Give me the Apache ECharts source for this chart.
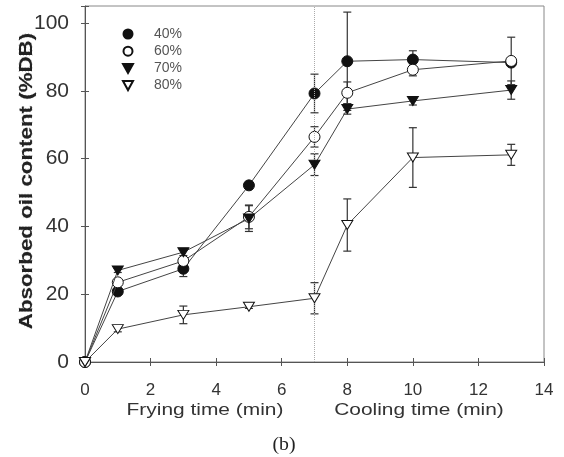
<!DOCTYPE html>
<html><head><meta charset="utf-8">
<script src="https://cdn.jsdelivr.net/npm/echarts@6/dist/echarts.min.js"></script>
<style>html,body{margin:0;padding:0;background:#fff}#c{width:564px;height:457px}</style>
</head><body><div id="c"></div>
<script>
const xTimes = [0, 1, 3, 5, 7, 8, 10, 13];
const seriesNames = ['40%', '60%', '70%', '80%'];
const s40 = [0, 20.8, 27.5, 52.1, 79.2, 88.7, 89.2, 88.3];
const e40 = [0, 0.8, 2.3, 0, 5.7, 14.5, 2.6, 0];
const s60 = [0, 23.5, 29.8, 42.8, 66.4, 79.4, 86.2, 88.8];
const e60 = [0, 0, 0, 3.5, 3.0, 3.2, 1.8, 7.0];
const s70 = [0, 27.0, 32.4, 42.3, 58.2, 74.6, 77.0, 80.2];
const e70 = [0, 0.6, 1.0, 3.8, 3.2, 1.5, 1.2, 2.7];
const s80 = [0, 9.7, 13.9, 16.3, 18.8, 40.4, 60.3, 61.1];
const e80 = [0, 0.8, 2.6, 0.5, 4.6, 7.7, 8.8, 3.1];
const yTicks = [0, 20, 40, 60, 80, 100];
const xTicks = [0, 2, 4, 6, 8, 10, 12, 14];

const FONT = 'Liberation Sans';
const tri = 'path://M0,0L10,0L5,9Z';
const vals = [s40, s60, s70, s80];
const errs = [e40, e60, e70, e80];
const symbols = ['circle', 'circle', tri, tri];
const fills = ['#111', '#fff', '#111', '#fff'];
const sizes = [11, 11, [11, 10], [11, 10]];

const chart = echarts.init(document.getElementById('c'), null, {renderer: 'canvas'});
const series = [];
vals.forEach((v, i) => {
  series.push({
    name: seriesNames[i], type: 'line', data: xTimes.map((x, k) => [x, v[k]]),
    symbol: symbols[i], symbolSize: sizes[i], symbolKeepAspect: true, showAllSymbol: true,
    lineStyle: {color: '#444', width: 1}, itemStyle: {color: fills[i], borderColor: '#111', borderWidth: 1},
    z: 3 + i, animation: false,
    markLine: i === 0 ? {symbol: 'none', silent: true, label: {show: false},
      lineStyle: {type: 'dotted', color: '#aaa', width: 1}, data: [{xAxis: 7}]} : undefined
  });
});
errs.forEach((e, i) => {
  series.push({
    type: 'custom', z: 2, animation: false, silent: true,
    data: xTimes.map((x, k) => [x, vals[i][k] - e[k], vals[i][k] + e[k], e[k]]).filter(d => d[3] > 0),
    renderItem: (params, api) => {
      const lo = api.coord([api.value(0), api.value(1)]);
      const hi = api.coord([api.value(0), api.value(2)]);
      const w = 4;
      const st = {stroke: '#333', lineWidth: 1.2};
      return {type: 'group', children: [
        {type: 'line', shape: {x1: lo[0], y1: lo[1], x2: hi[0], y2: hi[1]}, style: st},
        {type: 'line', shape: {x1: lo[0] - w, y1: lo[1], x2: lo[0] + w, y2: lo[1]}, style: st},
        {type: 'line', shape: {x1: hi[0] - w, y1: hi[1], x2: hi[0] + w, y2: hi[1]}, style: st}
      ]};
    }
  });
});

const axisLineStyle = {color: '#555', width: 1};
chart.setOption({
  animation: false,
  grid: {left: 85, right: 20, top: 6, bottom: 95, show: true, borderColor: '#888', borderWidth: 1},
  legend: {
    orient: 'vertical', left: 117, top: 22, itemWidth: 10, itemHeight: 9, itemGap: 3.2,
    data: seriesNames.map((n, i) => ({name: n, icon: i < 2 ? 'circle' : tri})),
    textStyle: {fontFamily: FONT, fontSize: 14, lineHeight: 14, color: '#555', padding: [0, 0, 0, 16]},
    selectedMode: false
  },
  xAxis: [{
    type: 'value', min: 0, max: 14, interval: 2,
    axisLine: {lineStyle: axisLineStyle}, axisTick: {show: true, inside: false, length: 4, lineStyle: axisLineStyle},
    axisLabel: {fontFamily: FONT, fontSize: 17, color: '#333', margin: 20, formatter: v => xTicks.includes(v) ? String(v) : ''},
    splitLine: {show: false}
  }, {
    type: 'value', min: 0, max: 14, interval: 2, position: 'bottom', gridIndex: 0,
    axisLine: {show: false}, axisTick: {show: true, inside: true, length: 4, lineStyle: axisLineStyle},
    axisLabel: {show: false}, splitLine: {show: false}
  }],
  yAxis: [{
    type: 'value', min: 0, max: 105, interval: 20,
    axisLine: {lineStyle: axisLineStyle}, axisTick: {show: true, inside: false, length: 4, lineStyle: axisLineStyle},
    axisLabel: {fontFamily: FONT, fontSize: 21, color: '#333', margin: 16, formatter: v => yTicks.includes(v) ? String(v) : ''},
    splitLine: {show: false}
  }, {
    type: 'value', min: 0, max: 105, interval: 20, position: 'left', offset: 0,
    axisLine: {show: false}, axisTick: {show: true, inside: true, length: 4, lineStyle: axisLineStyle},
    axisLabel: {show: false}, splitLine: {show: false}
  }],
  series: series,
  graphic: [
    {type: 'text', x: 27, y: 181, rotation: Math.PI / 2, scaleX: 1.24, style: {text: 'Absorbed oil content (%DB)', fontFamily: FONT, fontWeight: 'bold', fontSize: 18, fill: '#222', align: 'center', verticalAlign: 'middle'}},
    {type: 'text', x: 205, y: 410, scaleX: 1.23, style: {text: 'Frying time (min)', fontFamily: FONT, fontSize: 17, fill: '#333', align: 'center', verticalAlign: 'middle'}},
    {type: 'text', x: 419, y: 410, scaleX: 1.23, style: {text: 'Cooling time (min)', fontFamily: FONT, fontSize: 17, fill: '#333', align: 'center', verticalAlign: 'middle'}},
    {type: 'text', x: 284, y: 445, scaleX: 1.1, style: {text: '(b)', fontFamily: 'Liberation Serif', fontSize: 18, fill: '#222', align: 'center', verticalAlign: 'middle'}}
  ]
});
const p0 = chart.convertToPixel({gridIndex: 0}, [7, 0]);
chart.setOption({graphic: [{type: 'line', shape: {x1: p0[0], y1: p0[1], x2: p0[0], y2: p0[1] + 46}, style: {stroke: '#bbb', lineWidth: 1, lineDash: [1, 2]}}]});
</script></body></html>
